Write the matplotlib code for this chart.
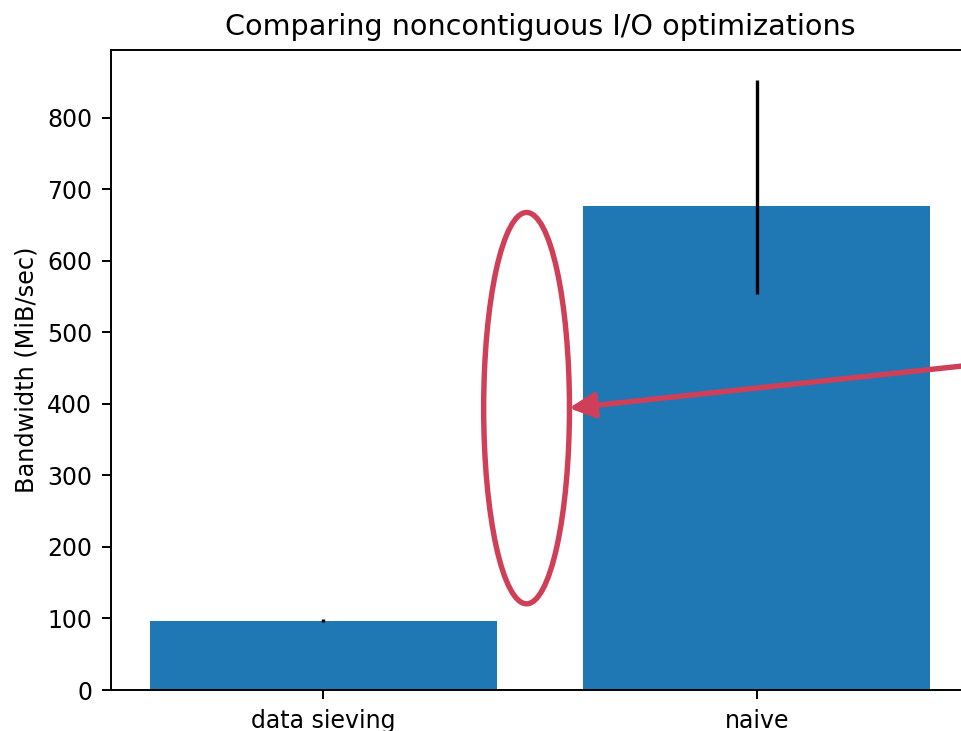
import matplotlib
matplotlib.use("Agg")
import matplotlib.pyplot as plt
from matplotlib.patches import Ellipse

# bandwidth per method (MiB/sec), with lower/upper error extents
methods = ["data sieving", "naive"]
bandwidth = [97, 676]
err_lower = [2, 123]
err_upper = [2, 176]

ANNOT_COLOR = "#cf4058"

fig = plt.figure(figsize=(9.61, 7.31), dpi=100)
ax = fig.add_axes([111 / 961, 41 / 731, 858 / 961, 640 / 731])

x = range(len(methods))
ax.bar(x, bandwidth, width=0.8, color="#1f77b4",
       yerr=[err_lower, err_upper], error_kw=dict(ecolor="black", elinewidth=2.4))
ax.set_xticks(list(x))
ax.set_xticklabels(methods)

ax.set_title("Comparing noncontiguous I/O optimizations", fontsize=20.6, pad=11)
ax.set_ylabel("Bandwidth (MiB/sec)", fontsize=17.3, labelpad=6)
ax.tick_params(labelsize=17, length=6.5, width=1.4, pad=7)
for sp in ax.spines.values():
    sp.set_linewidth(1.4)

# callout: ellipse around the gap between the bars and an arrow pointing at it
ell = Ellipse((0.469, 394), width=0.198, height=547, fill=False,
              edgecolor=ANNOT_COLOR, linewidth=3.9, clip_on=False, zorder=5)
ax.add_patch(ell)
ax.annotate("", xy=(0.567, 394), xytext=(1.6, 461),
            xycoords="data", textcoords="data", annotation_clip=False,
            arrowprops=dict(arrowstyle="-|>,head_length=0.4,head_width=0.2",
                            mutation_scale=38, color=ANNOT_COLOR, linewidth=3.9,
                            shrinkA=0, shrinkB=0),
            zorder=6)

fig.savefig("out.png", dpi=100)
